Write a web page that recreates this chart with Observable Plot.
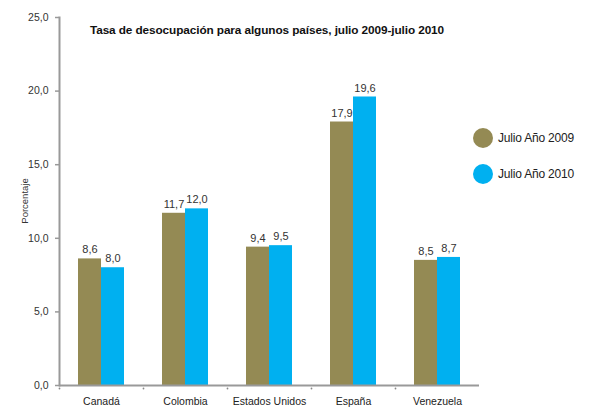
<!DOCTYPE html>
<html><head><meta charset="utf-8">
<script src="https://cdn.jsdelivr.net/npm/d3@7"></script>
<script src="https://cdn.jsdelivr.net/npm/@observablehq/plot@0.6"></script>
<style>
body{margin:0;background:#fff;font-family:"Liberation Sans",Arial,sans-serif;}
#wrap{position:relative;width:592px;height:410px;overflow:hidden;}
#title{position:absolute;left:0;width:534px;text-align:center;top:23px;font-weight:bold;font-size:11.8px;letter-spacing:-0.1px;color:#111;}
#ylab{position:absolute;left:24px;top:201px;transform:translate(-50%,-50%) rotate(-90deg);font-size:9.5px;color:#333;white-space:nowrap;}
.leg{position:absolute;left:473px;font-size:12px;color:#222;display:flex;align-items:center;white-space:nowrap;letter-spacing:-0.2px;}
.leg span.c{display:inline-block;width:20px;height:20px;border-radius:50%;margin-right:5px;}
</style></head>
<body><div id="wrap"><div id="chart"></div>
<div id="title">Tasa de desocupación para algunos países, julio 2009-julio 2010</div>
<div id="ylab">Porcentaje</div>
<div class="leg" style="top:128px"><span class="c" style="background:#948A54"></span>Julio Año 2009</div>
<div class="leg" style="top:164px"><span class="c" style="background:#00B0F0"></span>Julio Año 2010</div>
</div>
<script>
const countries = ["Canadá", "Colombia", "Estados Unidos", "España", "Venezuela"];
const years = ["Julio Año 2009", "Julio Año 2010"];
const values2009 = [8.6, 11.7, 9.4, 17.9, 8.5];
const values2010 = [8.0, 12.0, 9.5, 19.6, 8.7];
const yTicks = [0, 5, 10, 15, 20, 25];
const colors = ["#948A54", "#00B0F0"];

const data = [];
countries.forEach((c, i) => {
  data.push({country: c, year: years[0], value: values2009[i]});
  data.push({country: c, year: years[1], value: values2010[i]});
});
const fmt = v => v.toFixed(1).replace(".", ",");

const chart = Plot.plot({
  width: 592, height: 410,
  marginLeft: 57, marginRight: 112, marginTop: 17, marginBottom: 25,
  style: {fontFamily: "Liberation Sans, Arial, sans-serif", fontSize: "10px", color: "#333"},
  fx: {domain: countries, padding: 0, label: null},
  x: {domain: years, paddingInner: 0, paddingOuter: 0.8, axis: null},
  y: {domain: [0, 25], label: null},
  color: {domain: years, range: colors},
  marks: [
    Plot.barY(data, {fx: "country", x: "year", y: "value", fill: "year"}),
    Plot.text(data, {fx: "country", x: "year", y: "value", text: d => fmt(d.value), dy: -9, fill: "#333", fontSize: 11}),
    Plot.ruleY([0], {stroke: "#999", strokeWidth: 2}),
    Plot.frame({anchor: "left", fx: () => countries[0], stroke: "#999", strokeWidth: 2}),
    Plot.dot([0], {frameAnchor: "bottom-left", r: 0.9, fill: "#888", dy: 3}),
    Plot.axisY({ticks: yTicks, tickFormat: fmt, tickSize: 4, tickPadding: 7, stroke: "#999", strokeWidth: 1.5, fill: "#333", fontSize: 10.5, label: null}),
    Plot.axisFx({anchor: "bottom", tickSize: 0, tickPadding: 12, label: null, fontSize: 10.5, fill: "#222"})
  ]
});
document.getElementById("chart").appendChild(chart);
</script>
</body></html>
